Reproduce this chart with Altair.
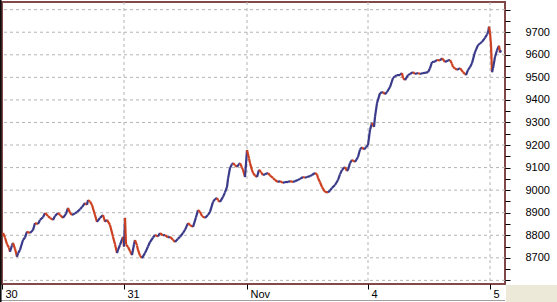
import altair as alt
import pandas as pd

# ---- data (bar number within the session grid, price) ----
bars = [
    1, 3, 5, 7, 8, 10, 11, 13, 15, 16, 18, 21, 23, 25, 28, 31, 33, 36, 38, 41, 43, 46, 48, 51, 53, 56,
    58, 61, 64, 66, 68, 70, 73, 75, 78, 80, 83, 85, 86, 88, 90, 93, 95, 98, 101, 103, 105, 108, 111,
    113, 115, 116, 118, 121,
    122, 123, 124, 126, 128, 130, 132, 133, 135, 136, 138, 140, 143, 146, 148, 151, 153, 156, 158, 161,
    163, 166, 168, 171, 173, 176, 178, 181, 183, 186, 188, 191, 194, 196, 198, 200, 203, 206, 208, 211,
    213, 215, 216, 218, 221, 223, 225, 226, 228, 230, 231, 233, 235, 237, 238, 240, 241, 243,
    245, 247, 248, 250, 251, 253, 255, 257, 259, 261, 263, 266, 268, 271, 273, 276, 278, 281, 283, 286,
    288, 291, 293, 296, 298, 301, 303, 305, 308, 310, 313, 315, 316, 318, 320, 323, 326, 328, 330, 333,
    336, 338, 340, 343, 345, 346, 348, 350, 353, 356, 358, 360, 362, 364,
    366, 368, 370, 372, 373, 375, 378, 381, 383, 385, 388, 391, 393, 395, 398, 400, 401, 403, 406, 408,
    411, 413, 416, 418, 421, 423, 426, 428, 430, 433, 435, 438, 440, 443, 446, 448, 450, 451, 453, 455,
    458, 461, 463, 464, 466, 468, 470, 473, 476, 478, 480, 483, 485, 486, 487, 488,
    489, 490, 491, 493, 495, 497, 498, 499,
]
prices = [
    8810, 8790, 8760, 8745, 8727, 8755, 8766, 8740, 8705, 8720, 8735, 8779, 8790, 8816, 8810, 8823,
    8854, 8850, 8868, 8880, 8899, 8885, 8877, 8868, 8885, 8899, 8890, 8877, 8895, 8921, 8900, 8890,
    8897, 8903, 8915, 8925, 8943, 8935, 8956, 8950, 8934, 8890, 8859, 8877, 8890, 8860, 8868, 8846,
    8793, 8760, 8721, 8735, 8757, 8793,
    8750, 8877, 8760, 8748, 8730, 8712, 8760, 8779, 8755, 8735, 8710, 8699, 8721, 8750, 8770, 8790,
    8801, 8795, 8810, 8800, 8801, 8790, 8793, 8780, 8770, 8785, 8793, 8810, 8824, 8854, 8845, 8837,
    8880, 8912, 8904, 8885, 8877, 8890, 8904, 8948, 8960, 8965, 8955, 8948, 8970, 8990, 9014, 9050,
    9098, 9115, 9120, 9110, 9103, 9115, 9120, 9100, 9090, 9058,
    9178, 9140, 9120, 9090, 9076, 9065, 9058, 9090, 9080, 9067, 9070, 9076, 9065, 9054, 9045, 9036,
    9040, 9032, 9036, 9036, 9040, 9036, 9040, 9045, 9050, 9058, 9055, 9058, 9062, 9067, 9076, 9070,
    9054, 9035, 9014, 8992, 8990, 8998, 9010, 9023, 9045, 9070, 9090, 9103, 9085, 9090, 9120, 9134,
    9125, 9147, 9180, 9190, 9180, 9190,
    9200, 9267, 9298, 9280, 9325, 9386, 9430, 9435, 9425, 9435, 9457, 9497, 9505, 9510, 9510, 9519,
    9497, 9488, 9510, 9515, 9523, 9515, 9519, 9515, 9519, 9520, 9523, 9540, 9568, 9570, 9577, 9575,
    9585, 9568, 9575, 9577, 9560, 9546, 9540, 9533, 9541, 9523, 9515, 9510, 9533, 9545, 9563, 9612,
    9643, 9650, 9657, 9675, 9690, 9697, 9725, 9700,
    9643, 9523, 9540, 9590, 9620, 9640, 9610, 9620,
]

day_starts = [0, 122, 245, 366, 488]
day_labels = ["30", "31", "Nov", "4", "5"]
grid_levels = list(range(8600, 9900, 100))
tick_levels = list(range(8600, 9850, 50))
label_levels = list(range(8700, 9800, 100))

UP = "#3a3a8a"
DOWN = "#cc4020"
FRAME = "#804848"
GRID = "#b4b4b4"

seg = pd.DataFrame({
    "bar0": bars[:-1], "bar": bars[1:],
    "p0": prices[:-1], "price": prices[1:],
})
seg["dir"] = ["up" if b >= a else "down" for a, b in zip(prices[:-1], prices[1:])]

xscale = alt.Scale(domain=[0, 503], nice=False, zero=False)
yscale = alt.Scale(domain=[8584, 9834], nice=False, zero=False)

label_expr = " : ".join(
    f"datum.value == {v} ? '{t}'" for v, t in zip(day_starts, day_labels)
) + " : ''"
ylabel_expr = "indexof([" + ",".join(str(v) for v in label_levels) + "], datum.value) >= 0 ? datum.label : ''"

xaxis = alt.Axis(values=day_starts, labelExpr=label_expr, title=None, grid=False, domain=False,
                 tickSize=5, tickColor="#000000", labelAlign="left", labelOffset=3,
                 labelBaseline="alphabetic", labelPadding=8, labelFlush=False,
                 labelColor="#000000", labelFont="Liberation Sans", labelFontSize=11)
yaxis = alt.Axis(values=tick_levels, labelExpr=ylabel_expr, format="d", orient="right", title=None,
                 grid=False, domain=False, tickSize=5, tickColor="#000000", labelPadding=15,
                 labelColor="#000000", labelFont="Liberation Sans", labelFontSize=11,
                 labelFlush=False, labelOverlap=False)

ygrid = alt.Chart(pd.DataFrame({"level": grid_levels})).mark_rule(
    color=GRID, strokeDash=[3, 3], strokeWidth=1
).encode(y=alt.Y("level:Q", scale=yscale, axis=yaxis))

xgrid = alt.Chart(pd.DataFrame({"bar": day_starts[1:]})).mark_rule(
    color=GRID, strokeDash=[3, 3], strokeWidth=1
).encode(x=alt.X("bar:Q", scale=xscale, axis=xaxis))

lines = alt.Chart(seg).mark_rule(strokeWidth=2.2).encode(
    x=alt.X("bar0:Q", scale=xscale, axis=xaxis),
    x2="bar:Q",
    y=alt.Y("p0:Q", scale=yscale, axis=yaxis),
    y2="price:Q",
    color=alt.Color("dir:N", scale=alt.Scale(domain=["up", "down"], range=[UP, DOWN]), legend=None),
)

one = pd.DataFrame({"k": [0]})
corner = alt.Chart(one).mark_rect(color="#ece9d8").encode(
    x=alt.value(504), x2=alt.value(556), y=alt.value(283), y2=alt.value(301)
)
bottom_line = alt.Chart(one).mark_rule(color="#a0a0a0", strokeWidth=1).encode(
    x=alt.value(-2), x2=alt.value(503), y=alt.value(298.5)
)
left_line = alt.Chart(one).mark_rule(color="#000000", strokeWidth=1.5).encode(
    x=alt.value(-1.2), y=alt.value(-2), y2=alt.value(300)
)

chart = alt.layer(ygrid, xgrid, lines, corner, bottom_line, left_line).properties(
    width=503, height=282,
    padding={"left": 2, "top": 2, "right": 52, "bottom": 18},
    autosize=alt.AutoSizeParams(type="none"),
    background="#ffffff",
).configure_view(stroke=FRAME, strokeWidth=2)

chart.save("out.html", embed_options={"renderer": "svg", "actions": False})
